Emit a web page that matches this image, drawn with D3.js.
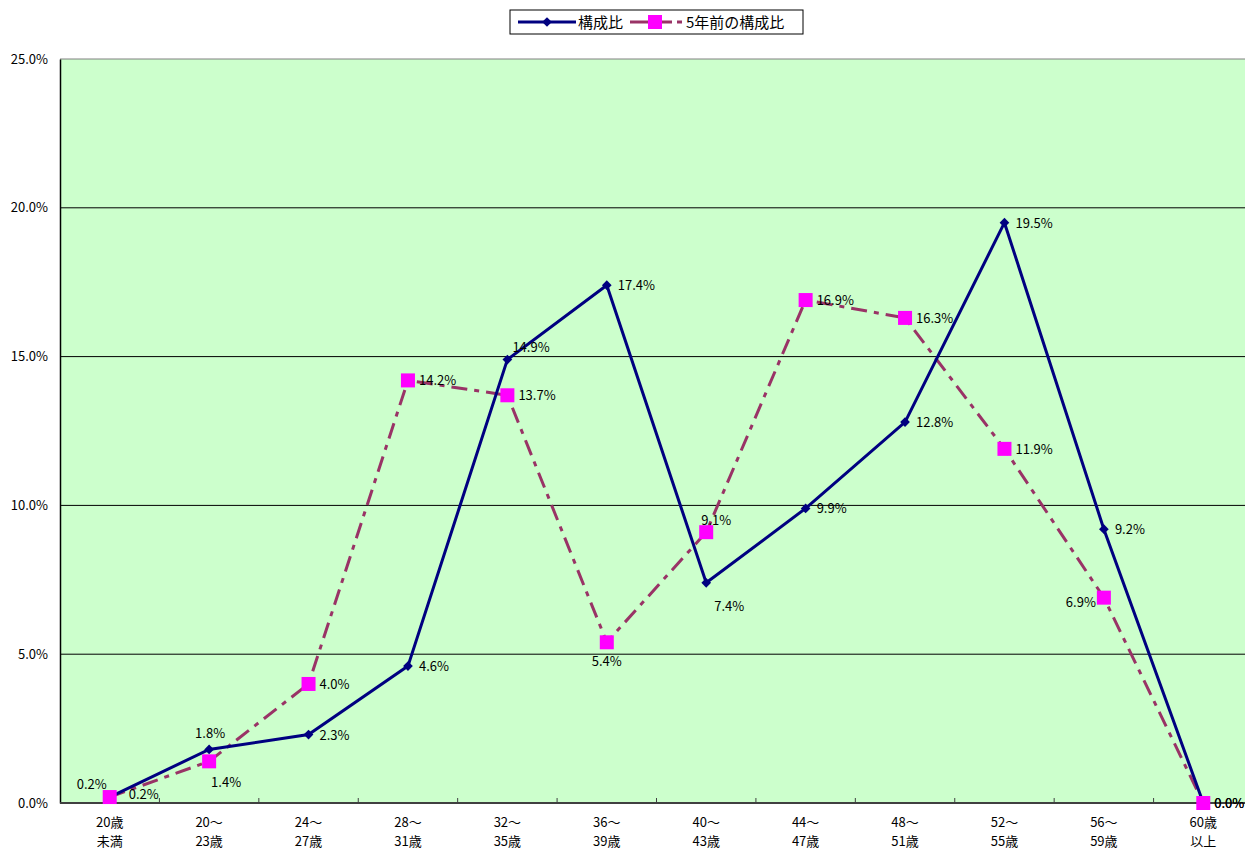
<!DOCTYPE html>
<html>
<head>
<meta charset="utf-8">
<script src="https://cdn.jsdelivr.net/npm/d3@7"></script>
<style>
  body { margin: 0; background: #fff; }
  text { font-family: "Noto Sans CJK JP", "DejaVu Sans", sans-serif; fill: #000; }
</style>
</head>
<body>
<div id="chart"></div>
<script>
// categories (two label lines each)
const categories = ["20歳\n未満", "20〜\n23歳", "24〜\n27歳", "28〜\n31歳", "32〜\n35歳", "36〜\n39歳",
                    "40〜\n43歳", "44〜\n47歳", "48〜\n51歳", "52〜\n55歳", "56〜\n59歳", "60歳\n以上"];
const current = [0.2, 1.8, 2.3, 4.6, 14.9, 17.4, 7.4, 9.9, 12.8, 19.5, 9.2, 0.0];
const fiveYearsAgo = [0.2, 1.4, 4.0, 14.2, 13.7, 5.4, 9.1, 16.9, 16.3, 11.9, 6.9, 0.0];
const yTicks = [0, 5, 10, 15, 20, 25];
const seriesNames = ["構成比", "5年前の構成比"];

const width = 1245, height = 851;
const margin = {top: 59, bottom: 48, left: 60};
// the plot area runs a little past the right edge of the picture
const plotRight = 1253;

const svg = d3.select("#chart").append("svg")
    .attr("width", width)
    .attr("height", height);

const x = d3.scaleBand()
    .domain(d3.range(categories.length))
    .range([margin.left, plotRight]);

const y = d3.scaleLinear()
    .domain([0, 25])
    .range([height - margin.bottom, margin.top]);

const cx = i => x(i) + x.bandwidth() / 2;

// plot background
svg.append("rect")
    .attr("x", margin.left)
    .attr("y", margin.top)
    .attr("width", plotRight - margin.left)
    .attr("height", y(0) - margin.top)
    .attr("fill", "#ccffcc");

// gridlines
svg.append("g")
    .selectAll("line")
    .data(yTicks.filter(d => d > 0 && d < 25))
    .join("line")
    .attr("x1", margin.left)
    .attr("x2", plotRight)
    .attr("y1", d => y(d))
    .attr("y2", d => y(d))
    .attr("stroke", "#000")
    .attr("stroke-width", 1);

// top border
svg.append("line")
    .attr("x1", margin.left).attr("x2", plotRight)
    .attr("y1", y(25)).attr("y2", y(25))
    .attr("stroke", "#808080").attr("stroke-width", 1);

// y axis
const yAxis = svg.append("g")
    .attr("transform", "translate(" + margin.left + ",0)")
    .call(d3.axisLeft(y).tickValues(yTicks).tickSize(0).tickPadding(12)
        .tickFormat(d => d.toFixed(1) + "%"));
yAxis.select(".domain").attr("stroke", "#000").attr("stroke-width", 1.5);
yAxis.selectAll("text")
    .style("font-size", "13px")
    .style("font-family", "\"Noto Sans CJK JP\", sans-serif");

// x axis line with inward ticks at category boundaries
svg.append("line")
    .attr("x1", margin.left).attr("x2", plotRight)
    .attr("y1", y(0)).attr("y2", y(0))
    .attr("stroke", "#404040").attr("stroke-width", 2);
svg.append("g")
    .selectAll("line")
    .data(d3.range(1, categories.length))
    .join("line")
    .attr("x1", i => x(i)).attr("x2", i => x(i))
    .attr("y1", y(0)).attr("y2", y(0) - 5)
    .attr("stroke", "#404040");

// x labels
const xl = svg.append("g")
    .selectAll("text")
    .data(categories)
    .join("text")
    .attr("text-anchor", "middle")
    .style("font-size", "13px");
xl.each(function (d, i) {
    const lines = d.split("\n");
    d3.select(this).selectAll("tspan")
        .data(lines)
        .join("tspan")
        .attr("x", cx(i))
        .attr("y", (l, k) => y(0) + 24 + k * 19)
        .text(l => l);
});

const line = d3.line().x((d, i) => cx(i)).y(d => y(d));

// 5 years ago series (dash-dot)
svg.append("path")
    .datum(fiveYearsAgo)
    .attr("d", line)
    .attr("fill", "none")
    .attr("stroke", "#993366")
    .attr("stroke-width", 3)
    .attr("stroke-dasharray", "16,7,5,7");

// current series
svg.append("path")
    .datum(current)
    .attr("d", line)
    .attr("fill", "none")
    .attr("stroke", "#000080")
    .attr("stroke-width", 3);

svg.append("g")
    .selectAll("path")
    .data(current)
    .join("path")
    .attr("d", d3.symbol(d3.symbolDiamond2, 60))
    .attr("transform", (d, i) => "translate(" + cx(i) + "," + y(d) + ")")
    .attr("fill", "#000080");

svg.append("g")
    .selectAll("rect")
    .data(fiveYearsAgo)
    .join("rect")
    .attr("x", (d, i) => cx(i) - 7)
    .attr("y", d => y(d) - 7)
    .attr("width", 14)
    .attr("height", 14)
    .attr("fill", "#ff00ff");

// data labels: default is to the right of the point; a few are moved
const curPlace = {0: [-3, -13, "end"], 1: [1, -16, "middle"], 4: [5, -13, "start"], 6: [8, 23, "start"]};
const oldPlace = {0: [19, -3, "start"], 1: [17, 21, "middle"], 5: [0, 19, "middle"], 6: [10, -12, "middle"], 10: [-8, 4, "end"]};

function labels(data, place) {
    svg.append("g")
        .selectAll("text")
        .data(data)
        .join("text")
        .attr("x", (d, i) => cx(i) + (place[i] ? place[i][0] : 11))
        .attr("y", (d, i) => y(d) + (place[i] ? place[i][1] : 0) + 5)
        .attr("text-anchor", (d, i) => place[i] ? place[i][2] : "start")
        .style("font-size", "13px")
        .text(d => d.toFixed(1) + "%");
}
labels(current, curPlace);
labels(fiveYearsAgo, oldPlace);

// legend
const lg = svg.append("g").attr("transform", "translate(510,10)");
lg.append("rect")
    .attr("width", 293).attr("height", 24)
    .attr("fill", "#fff").attr("stroke", "#000").attr("stroke-width", 1);
lg.append("line").attr("x1", 8).attr("x2", 66).attr("y1", 12).attr("y2", 12)
    .attr("stroke", "#000080").attr("stroke-width", 3);
lg.append("path").attr("d", d3.symbol(d3.symbolDiamond2, 60))
    .attr("transform", "translate(37,12)").attr("fill", "#000080");
lg.append("text").attr("x", 68).attr("y", 18).style("font-size", "15px").text(seriesNames[0]);
lg.append("line").attr("x1", 120).attr("x2", 162).attr("y1", 12).attr("y2", 12)
    .attr("stroke", "#993366").attr("stroke-width", 3);
lg.append("line").attr("x1", 167).attr("x2", 172).attr("y1", 12).attr("y2", 12)
    .attr("stroke", "#993366").attr("stroke-width", 3);
lg.append("rect").attr("x", 138).attr("y", 5).attr("width", 14).attr("height", 14).attr("fill", "#ff00ff");
lg.append("text").attr("x", 176).attr("y", 18).style("font-size", "15px").text(seriesNames[1]);
</script>
</body>
</html>
